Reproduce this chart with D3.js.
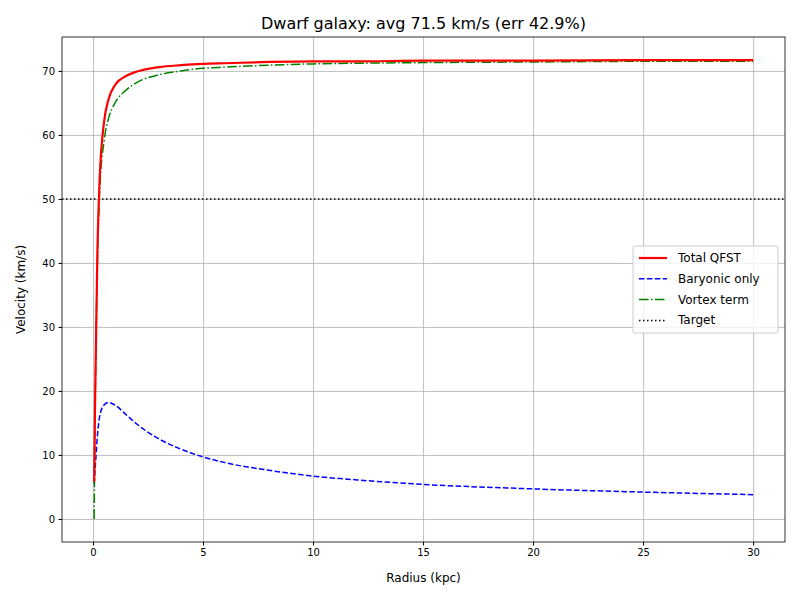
<!DOCTYPE html>
<html><head><meta charset="utf-8">
<script src="https://cdn.jsdelivr.net/npm/d3@7"></script>
<style>body{margin:0;background:#fff}text{font-family:"DejaVu Sans",sans-serif}</style>
</head><body><svg id="c" width="800" height="600"></svg>
<script>
var radius   = [0.05, 0.1, 0.2, 0.3, 0.5, 0.7, 1.0, 1.5, 2, 3, 4, 5, 6, 8, 10, 12, 15, 20, 25, 30];
var total    = [5.8, 20, 42, 53, 62, 65.5, 67.8, 69.2, 69.9, 70.6, 70.9, 71.1, 71.2, 71.4, 71.5, 71.5, 71.6, 71.6, 71.7, 71.7];
var baryonic = [5.5, 8, 13, 16, 17.8, 18.2, 17.8, 16.3, 14.8, 12.5, 10.9, 9.7, 8.8, 7.6, 6.7, 6.1, 5.4, 4.7, 4.2, 3.8];
var vortex   = [0, 18, 40, 51, 59, 62.5, 65, 67, 68.2, 69.4, 70.0, 70.4, 70.6, 70.9, 71.1, 71.2, 71.3, 71.4, 71.5, 71.5];
var target = 50;
var xTicks = [0, 5, 10, 15, 20, 25, 30];
var yTicks = [0, 10, 20, 30, 40, 50, 60, 70];

var svg = d3.select("#c"), L = 62, R = 785, T = 37, B = 542;
var x = d3.scaleLinear().domain([-1.41, 31.45]).range([L, R]);
var y = d3.scaleLinear().domain([-3.6, 75.3]).range([B, T]);

svg.append("g").attr("transform", "translate(0," + B + ")")
  .call(d3.axisBottom(x).tickValues(xTicks).tickSize(-(B - T)).tickFormat(""))
  .call(function (g) { g.select(".domain").remove(); g.selectAll("line").attr("stroke", "#b0b0b0").attr("stroke-width", 0.8); });
svg.append("g").attr("transform", "translate(" + L + ",0)")
  .call(d3.axisLeft(y).tickValues(yTicks).tickSize(-(R - L)).tickFormat(""))
  .call(function (g) { g.select(".domain").remove(); g.selectAll("line").attr("stroke", "#b0b0b0").attr("stroke-width", 0.8); });

svg.append("g").attr("transform", "translate(0," + B + ")")
  .call(d3.axisBottom(x).tickValues(xTicks).tickSize(3.5).tickPadding(3.5))
  .call(function (g) { g.select(".domain").remove(); g.selectAll("text").attr("font-size", 10).attr("fill", "#000"); });
svg.append("g").attr("transform", "translate(" + L + ",0)")
  .call(d3.axisLeft(y).tickValues(yTicks).tickSize(3.5).tickPadding(3.5))
  .call(function (g) { g.select(".domain").remove(); g.selectAll("text").attr("font-size", 10).attr("fill", "#000"); });

function line(vals) {
  return d3.line().x(function (d, i) { return x(radius[i]); }).y(function (d) { return y(d); })
    .curve(d3.curveMonotoneX)(vals);
}
svg.append("line").attr("x1", L).attr("x2", R).attr("y1", y(target)).attr("y2", y(target))
  .attr("stroke", "#000").attr("stroke-width", 1.5).attr("stroke-dasharray", "1.5,2.5");
svg.append("path").attr("d", line(baryonic)).attr("fill", "none").attr("stroke", "blue").attr("stroke-width", 1.5).attr("stroke-dasharray", "5.5,2.4");
svg.append("path").attr("d", line(vortex)).attr("fill", "none").attr("stroke", "green").attr("stroke-width", 1.5).attr("stroke-dasharray", "9.6,2.4,1.5,2.4");
svg.append("path").attr("d", line(total)).attr("fill", "none").attr("stroke", "red").attr("stroke-width", 2.2);

svg.append("rect").attr("x", L).attr("y", T).attr("width", R - L).attr("height", B - T)
  .attr("fill", "none").attr("stroke", "#000").attr("stroke-width", 0.8);

svg.append("text").attr("x", (L + R) / 2).attr("y", 29).attr("text-anchor", "middle").attr("font-size", 16).text("Dwarf galaxy: avg 71.5 km/s (err 42.9%)");
svg.append("text").attr("x", (L + R) / 2).attr("y", 582).attr("text-anchor", "middle").attr("font-size", 12).text("Radius (kpc)");
svg.append("text").attr("transform", "translate(25," + (T + B) / 2 + ") rotate(-90)").attr("text-anchor", "middle").attr("font-size", 12).text("Velocity (km/s)");

var items = [["Total QFST", "red", null, 2.2], ["Baryonic only", "blue", "5.5,2.4", 1.5],
  ["Vortex term", "green", "9.6,2.4,1.5,2.4", 1.5], ["Target", "#000", "1.5,2.5", 1.5]];
var lg = svg.append("g").attr("transform", "translate(633,246)");
lg.append("rect").attr("width", 145).attr("height", 87).attr("rx", 2).attr("fill", "#fff").attr("fill-opacity", 0.8).attr("stroke", "#ccc");
items.forEach(function (it, i) {
  var yy = 12 + i * 20.8;
  lg.append("line").attr("x1", 6).attr("x2", 34).attr("y1", yy).attr("y2", yy).attr("stroke", it[1])
    .attr("stroke-width", it[3]).attr("stroke-dasharray", it[2]);
  lg.append("text").attr("x", 45).attr("y", yy + 4).attr("font-size", 12).text(it[0]);
});
</script></body></html>
